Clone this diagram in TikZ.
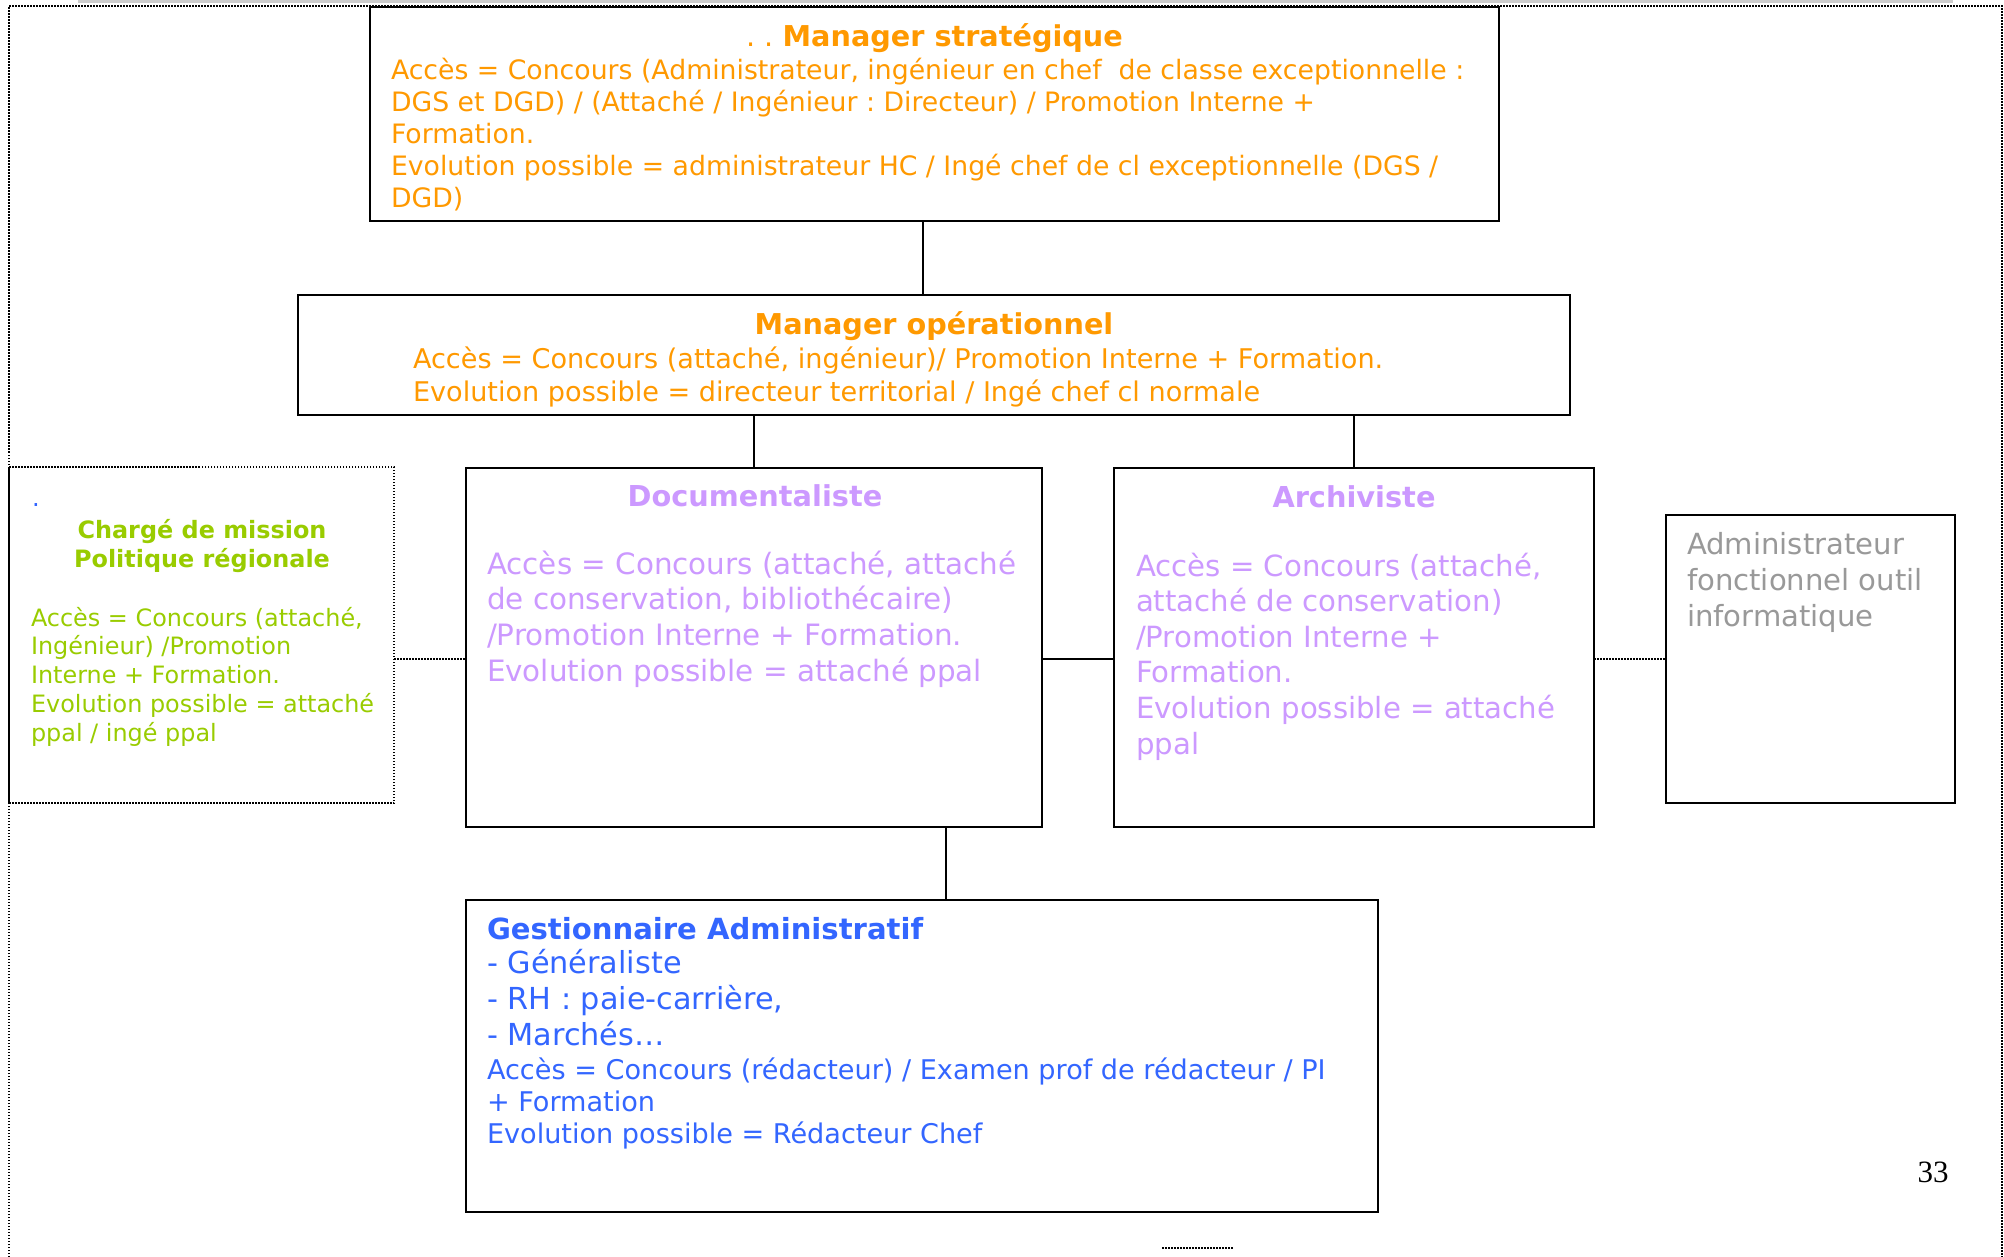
\documentclass[tikz,border=0pt]{standalone}
\usepackage{fontspec}
\setmainfont{DejaVu Sans}
\newfontfamily\timesf{Liberation Serif}
\definecolor{orgc}{HTML}{FF9900}
\definecolor{lavc}{HTML}{CC99FF}
\definecolor{grnc}{HTML}{99CC00}
\definecolor{bluc}{HTML}{3366FF}
\definecolor{gryc}{HTML}{999999}
\newcommand{\fsz}[2]{\fontsize{#1}{#2}\selectfont}
\frenchspacing
\begin{document}
\begin{tikzpicture}[x=1pt,y=-1pt,
 box/.style={draw=black, line width=2.5pt, inner sep=0pt, outer sep=0pt, anchor=north west},
 dotbox/.style={draw=black, line width=1.6pt, dash pattern=on 1.5pt off 1.5pt, inner sep=0pt, outer sep=0pt, anchor=north west},
 link/.style={draw=black, line width=2pt},
 dotlink/.style={draw=black, line width=1.6pt, dash pattern=on 1.5pt off 1.5pt},
 txt/.style={inner sep=0pt, outer sep=0pt, anchor=base west},
 ttl/.style={inner sep=0pt, outer sep=0pt, anchor=base, font=\bfseries},
]
\useasboundingbox (0,0) rectangle (2004,1257);
\fill[white] (0,0) rectangle (2004,1257);

% page frame
\draw[gray!40, line width=3pt] (78,1.5) -- (1953,1.5);
\draw[dotlink] (9,1257) -- (9,6) -- (2002,6) -- (2002,1257);
\draw[dotlink] (1162,1248) -- (1234,1248);

% boxes
\node[box, minimum width=1129pt, minimum height=214pt] (ms) at (370,7) {};
\node[box, minimum width=1272pt, minimum height=120pt] (mo) at (298,295) {};
\node[box, minimum width=576pt, minimum height=359pt] (doc) at (466,468) {};
\node[box, minimum width=480pt, minimum height=359pt] (arc) at (1114,468) {};
\node[dotbox, minimum width=385pt, minimum height=336pt] (cm) at (9,467) {};
\node[box, minimum width=289pt, minimum height=288pt] (adm) at (1666,515) {};
\node[box, minimum width=912pt, minimum height=312pt] (ga) at (466,900) {};

% connectors
\coordinate (vx1) at (923,0);
\coordinate (vx2) at (946,0);
\coordinate (hy) at (0,659);
\draw[link] (vx1 |- ms.south) -- (vx1 |- mo.north);
\draw[link] (mo.south -| doc.north) -- (doc.north);
\draw[link] (mo.south -| arc.north) -- (arc.north);
\draw[link] (doc.east |- hy) -- (arc.west |- hy);
\draw[dotlink] (cm.east |- hy) -- (doc.west |- hy);
\draw[dotlink] (arc.east |- hy) -- (adm.west |- hy);
\draw[link] (vx2 |- doc.south) -- (vx2 |- ga.north);

% Manager strategique
\node[ttl, text=orgc] (ms-t) at (934.5,47) {\fsz{28.7}{34}{\mdseries . . }Manager stratégique};
\node[txt, text=orgc] (ms-b) at (391,80) {\fsz{26.7}{32}\vtop{%
\hbox{Accès = Concours (Administrateur, ingénieur en chef~ de classe exceptionnelle :}
\hbox{DGS et DGD) / (Attaché / Ingénieur : Directeur) / Promotion Interne +}
\hbox{Formation.}
\hbox{Evolution possible = administrateur HC / Ingé chef de cl exceptionnelle (DGS /}
\hbox{DGD)}}};

% Manager operationnel
\node[ttl, text=orgc] (mo-t) at (934,334) {\fsz{28.7}{34}Manager opérationnel};
\node[txt, text=orgc] (mo-b) at (413,368) {\fsz{27.1}{33}\vtop{%
\hbox{Accès = Concours (attaché, ingénieur)/ Promotion Interne + Formation.}
\hbox{Evolution possible = directeur territorial / Ingé chef cl normale}}};

% Documentaliste
\node[ttl, text=lavc] (doc-t) at (755,506) {\fsz{28.8}{34}Documentaliste};
\node[txt, text=lavc] (doc-b) at (487,574) {\fsz{29.4}{35.7}\vtop{%
\hbox{Accès = Concours (attaché, attaché}
\hbox{de conservation, bibliothécaire)}
\hbox{/Promotion Interne + Formation.}
\hbox{Evolution possible = attaché ppal}}};

% Archiviste
\node[ttl, text=lavc] (arc-t) at (1354,507) {\fsz{28.8}{34}Archiviste};
\node[txt, text=lavc] (arc-b) at (1136,576) {\fsz{29.2}{35.6}\vtop{%
\hbox{Accès = Concours (attaché,}
\hbox{attaché de conservation)}
\hbox{/Promotion Interne +}
\hbox{Formation.}
\hbox{Evolution possible = attaché}
\hbox{ppal}}};

% Charge de mission
\node[txt, text=bluc] (cm-d) at (32,506) {\fsz{24}{29}.};
\node[ttl, text=grnc] (cm-t1) at (202,538) {\fsz{23.9}{29}Chargé de mission};
\node[ttl, text=grnc] (cm-t2) at (202,567) {\fsz{23.9}{29}Politique régionale};
\node[txt, text=grnc] (cm-b) at (31,626) {\fsz{23.9}{28.8}\vtop{%
\hbox{Accès = Concours (attaché,}
\hbox{Ingénieur) /Promotion}
\hbox{Interne + Formation.}
\hbox{Evolution possible = attaché}
\hbox{ppal / ingé ppal}}};

% Administrateur fonctionnel
\node[txt, text=gryc] (adm-b) at (1687,554) {\fsz{29.1}{36}\vtop{%
\hbox{Administrateur}
\hbox{fonctionnel outil}
\hbox{informatique}}};

% Gestionnaire administratif
\node[txt, text=bluc, font=\bfseries] (ga-t) at (487,939) {\fsz{29.1}{34}Gestionnaire Administratif};
\node[txt, text=bluc] (ga-b1) at (487,973) {\fsz{30.3}{36}\vtop{%
\hbox{- Généraliste}
\hbox{- RH : paie-carrière,}
\hbox{- Marchés…}}};
\node[txt, text=bluc] (ga-b2) at (487,1079) {\fsz{27.1}{32}\vtop{%
\hbox{Accès = Concours (rédacteur) / Examen prof de rédacteur / PI}
\hbox{+ Formation}
\hbox{Evolution possible = Rédacteur Chef}}};

% page number
\node[inner sep=0pt, anchor=base] (pg) at (1933,1182) {\timesf\fsz{31}{34}33};
\end{tikzpicture}
\end{document}
